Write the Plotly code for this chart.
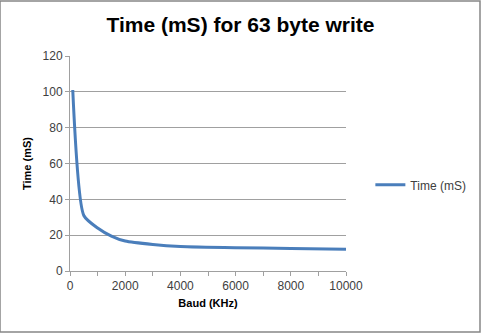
import plotly.graph_objects as go

baud_khz = [100, 500, 1000, 1500, 2000, 3000, 4000, 6000, 8000, 10000]
time_ms = [101, 31, 24, 19.5, 16.7, 14.8, 13.7, 13.0, 12.6, 12.2]

series_name = "Time (mS)"
title_text = "Time (mS) for 63 byte write"
x_title = "Baud (KHz)"
y_title = "Time (mS)"

fig = go.Figure()
fig.add_trace(go.Scatter(
    x=baud_khz, y=time_ms, mode="lines", name=series_name,
    line=dict(color="#4A7EBB", width=3, shape="spline", smoothing=0.6),
))

font_family = "Liberation Sans, Arial, sans-serif"
fig.update_layout(
    width=481, height=333,
    margin=dict(l=70, r=135, t=56, b=62, autoexpand=False),
    paper_bgcolor="white", plot_bgcolor="white",
    title=dict(text=title_text, x=0.5, xanchor="center", y=0.925, yanchor="middle",
               font=dict(family=font_family, size=21, color="black", weight="bold")),
    font=dict(family=font_family, color="#404040"),
    showlegend=True,
    legend=dict(xref="container", yref="container", x=0.77, y=0.445,
                xanchor="left", yanchor="middle",
                font=dict(size=12, color="#404040"), bgcolor="rgba(0,0,0,0)"),
    xaxis=dict(range=[0, 10000], dtick=2000, tick0=0, tickformat="d", showgrid=False,
               automargin=False,
               showline=True, linecolor="#A0A0A0", linewidth=1,
               ticks="outside", ticklen=4, tickcolor="#A0A0A0",
               minor=dict(dtick=1000, ticks="outside", ticklen=4, tickcolor="#A0A0A0"),
               tickfont=dict(size=12, color="#404040"),
               title=dict(text=x_title, font=dict(size=11, color="black", weight="bold"), standoff=6),
               zeroline=False, fixedrange=True),
    yaxis=dict(range=[0, 120], dtick=20, showgrid=True, gridcolor="#A0A0A0", gridwidth=1,
               automargin=False,
               showline=True, linecolor="#A0A0A0", linewidth=1,
               ticks="outside", ticklen=4, tickcolor="#A0A0A0",
               tickfont=dict(size=12, color="#404040"),
               title=dict(text=y_title, font=dict(size=11, color="black", weight="bold"), standoff=8),
               zeroline=False, fixedrange=True),
    shapes=[dict(type="rect", xref="paper", yref="paper", x0=-70/276, x1=1+134/276,
                 y0=-61/215, y1=1+55/215, line=dict(color="#868686", width=1.5))],
)

fig.write_html("out.html", config={"displayModeBar": False})
